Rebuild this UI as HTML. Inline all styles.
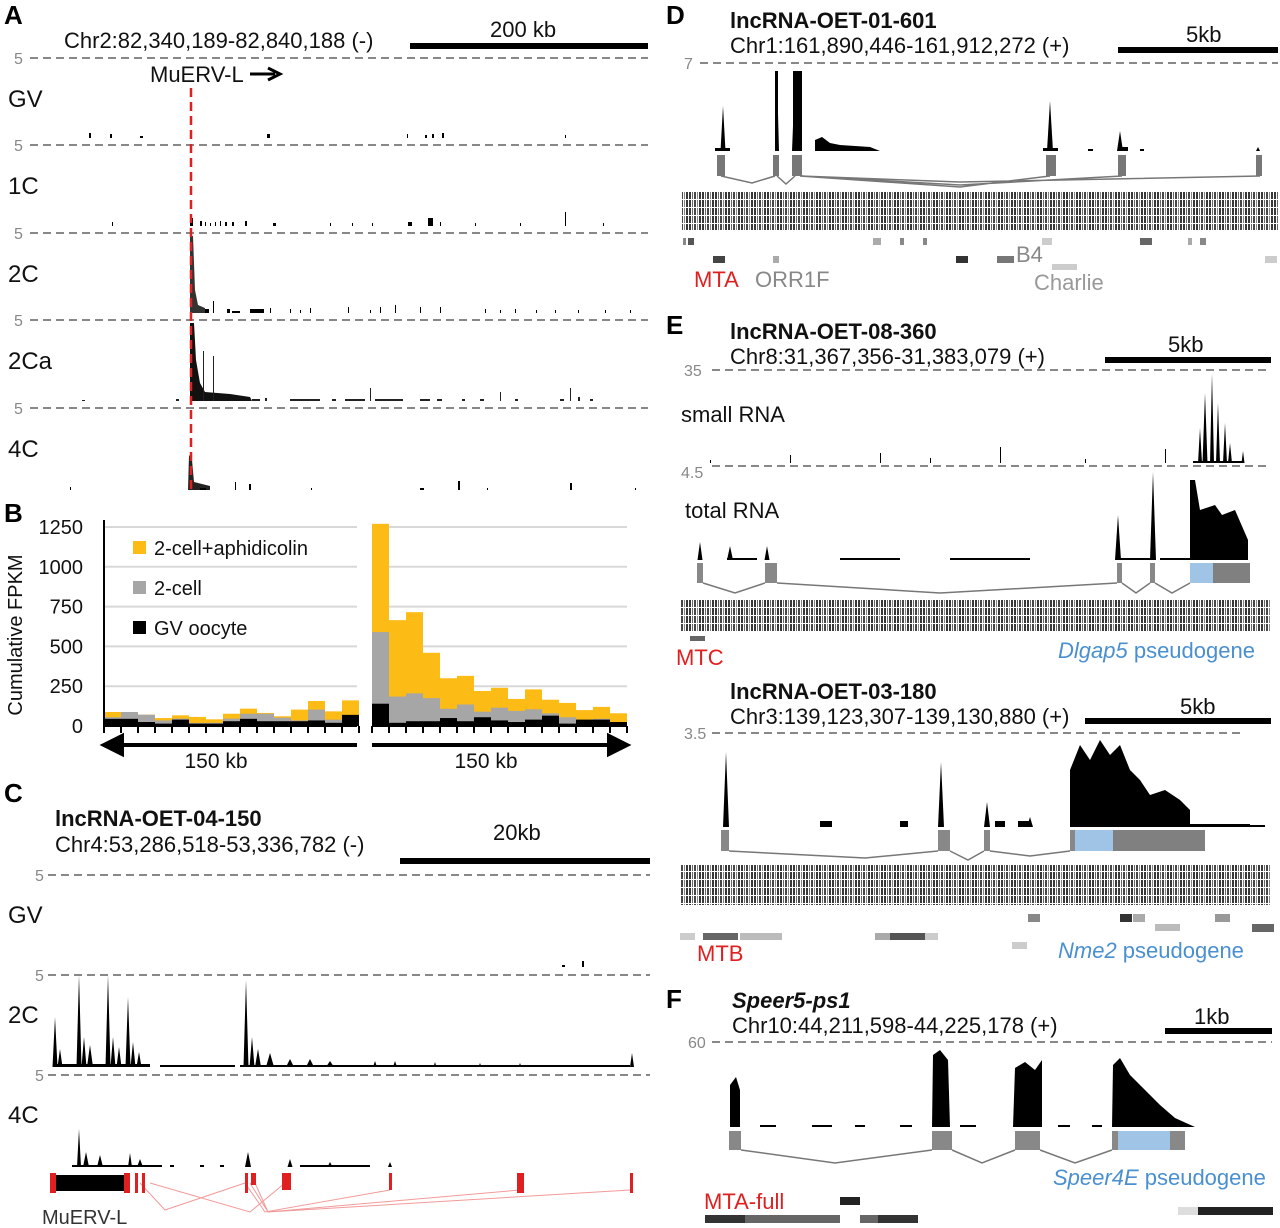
<!DOCTYPE html>
<html><head><meta charset="utf-8"><style>
body{margin:0;background:#fff}
svg{display:block;font-family:"Liberation Sans",sans-serif}
.t{font-size:22px;fill:#111}
.big{font-size:24px;fill:#111}
.pl{font-size:26px;font-weight:bold;fill:#000}
.g5{font-size:16px;fill:#888}
.dash{stroke:#888;stroke-width:2;stroke-dasharray:8,5}
</style></head><body>
<svg id="fig" width="1280" height="1228" viewBox="0 0 1280 1228">
<defs>
<pattern id="rep" width="13" height="8" patternUnits="userSpaceOnUse">
<rect width="13" height="8" fill="#fff"/><rect x="0" y="0" width="2" height="7" fill="#222"/><rect x="3" y="0" width="1" height="7" fill="#555"/><rect x="5" y="0" width="2" height="7" fill="#333"/><rect x="8" y="0" width="1" height="7" fill="#777"/><rect x="10" y="0" width="2" height="7" fill="#222"/>
</pattern>
</defs>

<g>
<text x="4" y="24" class="pl">A</text>
<text x="64" y="48" class="t">Chr2:82,340,189-82,840,188 (-)</text>
<rect x="410" y="43" width="238" height="6" fill="#000"/>
<text x="490" y="37" class="t">200 kb</text>
<text x="150" y="82" class="t">MuERV-L</text>
<path d="M250 74 H275 M268 68 L280 74 L268 80" stroke="#000" stroke-width="3" fill="none"/>
<g id="aTracks"></g>
<line x1="191" y1="88" x2="191" y2="492" stroke="#e02020" stroke-width="2.5" stroke-dasharray="9,5"/>
</g>

<g>
<text x="4" y="522" class="pl">B</text>
<text transform="translate(22,635) rotate(-90)" text-anchor="middle" class="t" style="font-size:20px">Cumulative FPKM</text>
<g id="bChart"></g>
</g>

<g>
<text x="4" y="802" class="pl">C</text>
<text x="55" y="826" class="t" style="font-weight:bold">lncRNA-OET-04-150</text>
<text x="55" y="852" class="t">Chr4:53,286,518-53,336,782 (-)</text>
<rect x="400" y="858" width="250" height="6" fill="#000"/>
<text x="493" y="840" class="t">20kb</text>
<g id="cTracks"></g>
<g>
<g stroke="#f29a9a" stroke-width="1" fill="none">
<path d="M140 1183 L165 1210 L245 1183 M150 1183 L250 1212 L285 1183 M245 1183 L265 1212 L390 1190 M250 1183 L268 1212 L520 1190 M255 1183 L268 1212 L630 1190"/>
</g>
<rect x="55" y="1175" width="70" height="16" fill="#000"/>
<rect x="50" y="1173" width="6" height="20" fill="#e02020"/><rect x="124" y="1173" width="6" height="20" fill="#e02020"/>
<rect x="135" y="1173" width="3" height="20" fill="#e02020"/><rect x="142" y="1173" width="3" height="20" fill="#e02020"/>
<rect x="245" y="1173" width="3" height="20" fill="#e02020"/><rect x="251" y="1173" width="5" height="12" fill="#e02020"/>
<rect x="282" y="1173" width="9" height="17" fill="#e02020"/><rect x="389" y="1173" width="3" height="17" fill="#e02020"/>
<rect x="517" y="1173" width="7" height="20" fill="#e02020"/><rect x="630" y="1173" width="3" height="20" fill="#e02020"/>
</g>
<text x="42" y="1224" class="t" style="font-size:20px;fill:#333">MuERV-L</text>
</g>

<g>
<text x="666" y="24" class="pl">D</text>
<text x="730" y="28" class="t" style="font-weight:bold">lncRNA-OET-01-601</text>
<text x="730" y="53" class="t">Chr1:161,890,446-161,912,272 (+)</text>
<rect x="1118" y="47" width="160" height="6" fill="#000"/>
<text x="1186" y="42" class="t">5kb</text>
<text x="684" y="69" class="g5">7</text>
<line x1="700" y1="63" x2="1278" y2="63" class="dash"/>
<g id="dTrack"></g>
<rect x="682" y="192" width="596" height="38" fill="url(#rep)" opacity="0.9"/>
<g fill="#888"><rect x="683" y="238" width="3" height="7"/><rect x="688" y="238" width="6" height="7" fill="#555"/><rect x="873" y="238" width="8" height="7" fill="#aaa"/><rect x="900" y="238" width="4" height="7"/><rect x="923" y="238" width="4" height="7"/><rect x="1140" y="238" width="12" height="7" fill="#666"/><rect x="1188" y="238" width="4" height="7" fill="#aaa"/><rect x="1200" y="238" width="6" height="7"/><rect x="1042" y="238" width="10" height="7" fill="#ccc"/>
<rect x="713" y="256" width="12" height="7" fill="#444"/><rect x="773" y="256" width="6" height="7" fill="#aaa"/><rect x="956" y="256" width="12" height="7" fill="#333"/><rect x="997" y="256" width="17" height="7" fill="#777"/><rect x="1052" y="264" width="25" height="6" fill="#ccc"/><rect x="1265" y="256" width="12" height="7" fill="#ccc"/></g>
<text x="694" y="287" class="t" style="fill:#e02020">MTA</text>
<text x="755" y="287" class="t" style="fill:#888">ORR1F</text>
<text x="1016" y="262" class="t" style="fill:#888">B4</text>
<text x="1034" y="290" class="t" style="fill:#999">Charlie</text>
</g>

<g>
<text x="666" y="334" class="pl">E</text>
<text x="730" y="339" class="t" style="font-weight:bold">lncRNA-OET-08-360</text>
<text x="730" y="364" class="t">Chr8:31,367,356-31,383,079 (+)</text>
<rect x="1105" y="357" width="166" height="6" fill="#000"/>
<text x="1168" y="352" class="t">5kb</text>
<text x="684" y="376" class="g5">35</text>
<line x1="712" y1="370" x2="1270" y2="370" class="dash"/>
<text x="681" y="422" class="t">small RNA</text>
<text x="681" y="478" class="g5">4.5</text>
<line x1="712" y1="466" x2="1270" y2="466" class="dash"/>
<text x="685" y="518" class="t">total RNA</text>
<g id="eTrack"></g>
<rect x="680" y="600" width="590" height="32" fill="url(#rep)" opacity="0.9"/>
<rect x="690" y="636" width="15" height="5" fill="#666"/>
<text x="676" y="665" class="t" style="fill:#e02020">MTC</text>
<text x="1058" y="658" class="t" style="fill:#4a90d0"><tspan font-style="italic">Dlgap5</tspan> pseudogene</text>

<text x="730" y="699" class="t" style="font-weight:bold">lncRNA-OET-03-180</text>
<text x="730" y="724" class="t">Chr3:139,123,307-139,130,880 (+)</text>
<rect x="1085" y="718" width="186" height="6" fill="#000"/>
<text x="1180" y="714" class="t">5kb</text>
<text x="684" y="739" class="g5">3.5</text>
<line x1="712" y1="733" x2="1240" y2="733" class="dash"/>
<g id="e2Track"></g>
<rect x="680" y="865" width="590" height="40" fill="url(#rep)" opacity="0.9"/>
<g><rect x="1028" y="914" width="12" height="8" fill="#888"/><rect x="1120" y="914" width="12" height="8" fill="#333"/><rect x="1133" y="914" width="12" height="8" fill="#aaa"/><rect x="1215" y="914" width="15" height="8" fill="#999"/><rect x="1252" y="924" width="22" height="8" fill="#666"/><rect x="1155" y="924" width="25" height="7" fill="#bbb"/>
<rect x="680" y="933" width="15" height="7" fill="#ccc"/><rect x="703" y="933" width="35" height="7" fill="#666"/><rect x="740" y="933" width="42" height="7" fill="#bbb"/><rect x="875" y="933" width="15" height="7" fill="#aaa"/><rect x="890" y="933" width="35" height="7" fill="#555"/><rect x="925" y="933" width="13" height="7" fill="#ccc"/><rect x="1012" y="942" width="15" height="7" fill="#ccc"/></g>
<text x="697" y="961" class="t" style="fill:#e02020">MTB</text>
<text x="1058" y="958" class="t" style="fill:#4a90d0"><tspan font-style="italic">Nme2</tspan> pseudogene</text>
</g>

<g>
<text x="666" y="1008" class="pl">F</text>
<text x="732" y="1008" class="t" style="font-weight:bold;font-style:italic">Speer5-ps1</text>
<text x="732" y="1033" class="t">Chr10:44,211,598-44,225,178 (+)</text>
<rect x="1165" y="1028" width="107" height="6" fill="#000"/>
<text x="1194" y="1024" class="t">1kb</text>
<text x="688" y="1048" class="g5">60</text>
<line x1="712" y1="1042" x2="1272" y2="1042" class="dash"/>
<g id="fTrack"></g>
<text x="1053" y="1185" class="t" style="fill:#4a90d0"><tspan font-style="italic">Speer4E</tspan> pseudogene</text>
<text x="704" y="1209" class="t" style="fill:#e02020">MTA-full</text>
<rect x="840" y="1197" width="20" height="8" fill="#222"/>
<rect x="705" y="1215" width="40" height="8" fill="#333"/><rect x="745" y="1215" width="95" height="8" fill="#666"/><rect x="860" y="1215" width="18" height="8" fill="#666"/><rect x="878" y="1215" width="40" height="8" fill="#333"/>
<rect x="1178" y="1207" width="20" height="8" fill="#ddd"/><rect x="1198" y="1207" width="75" height="8" fill="#222"/>
</g>
</svg>
<script>
// ---- Panel B data ----
const binLabels=["L1","L2","L3","L4","L5","L6","L7","L8","L9","L10","L11","L12","L13","L14","L15","R1","R2","R3","R4","R5","R6","R7","R8","R9","R10","R11","R12","R13","R14","R15"];
const gvOocyte=[45,45,25,15,40,15,15,30,45,30,30,30,35,20,70, 140,20,30,30,50,30,55,35,25,40,65,15,40,40,25];
const twoCell=[55,88,71,35,46,19,20,46,77,77,52,35,103,40,67, 590,185,205,175,108,135,90,115,95,105,80,55,40,45,25];
const twoCellAph=[88,88,71,50,67,57,42,77,109,82,61,103,157,92,161, 1270,665,715,460,300,315,220,240,170,230,165,145,100,120,80];
const yTicks=[0,250,500,750,1000,1250];
const legendLabels=["2-cell+aphidicolin","2-cell","GV oocyte"];

const NS="http://www.w3.org/2000/svg";
function el(tag,attrs,parent){const e=document.createElementNS(NS,tag);for(const k in attrs)e.setAttribute(k,attrs[k]);parent.appendChild(e);return e;}
const bg=document.getElementById('bChart');
const y0=726,yTop=527,vmax=1250;
const yS=v=>y0-(v/vmax)*(y0-yTop);
const bw=17;
const xS=i=>(i<15?104+i*bw:372+(i-15)*bw);
yTicks.forEach(t=>{
  if(t>0){const l=el('line',{x1:104,x2:627,y1:yS(t),y2:yS(t),stroke:'#d8d8d8','stroke-width':2},bg);
  
  }
  const tx=el('text',{x:83,y:yS(t)+7,'text-anchor':'end','font-size':20,fill:'#111'},bg);tx.textContent=t;
  
  
});
el('rect',{x:357,y:515,width:15,height:212,fill:'#fff'},bg);
for(let i=0;i<binLabels.length;i++){
  const x=xS(i);
  const r1=el('rect',{x:x,y:yS(twoCellAph[i]),width:bw,height:y0-yS(twoCellAph[i]),fill:'#fdbb16'},bg);
  
  
  const r2=el('rect',{x:x,y:yS(twoCell[i]),width:bw,height:y0-yS(twoCell[i]),fill:'#a6a6a6'},bg);
  
  
  const r3=el('rect',{x:x,y:yS(gvOocyte[i]),width:bw,height:y0-yS(gvOocyte[i]),fill:'#000'},bg);
  
  
}
el('line',{x1:104,x2:104,y1:520,y2:733,stroke:'#000','stroke-width':2},bg);
el('line',{x1:104,x2:357,y1:y0,y2:y0,stroke:'#000','stroke-width':2},bg);
el('line',{x1:372,x2:627,y1:y0,y2:y0,stroke:'#000','stroke-width':2},bg);
for(let i=0;i<=15;i++){el('line',{x1:104+i*bw,x2:104+i*bw,y1:y0,y2:y0+7,stroke:'#000','stroke-width':2},bg);el('line',{x1:372+i*bw,x2:372+i*bw,y1:y0,y2:y0+7,stroke:'#000','stroke-width':2},bg);}
el('path',{d:'M120 745 H357 M104 745 L122 736 L122 754 Z M372 745 H610 M627 745 L609 736 L609 754 Z',stroke:'#000','stroke-width':4,fill:'#000'},bg);
[["150 kb",216],["150 kb",486]].forEach(([s,x])=>{const t=el('text',{x:x,y:768,'text-anchor':'middle','font-size':21,fill:'#111'},bg);t.textContent=s;});
const legCols=['#fdbb16','#a6a6a6','#000'];
legendLabels.forEach((s,i)=>{
  const g=el('g',{},bg);
  
  
  el('rect',{x:133,y:541+i*40,width:13,height:13,fill:legCols[i]},g);
  const t=el('text',{x:154,y:555+i*40,'font-size':20,fill:'#111'},g);t.textContent=s;
});

// ---- tracks ----  spikes: [x,height,width]; blocks: [x,width,height]
function spikes(parent,base,list,col){
  list.forEach(([x,h,w])=>{el('path',{d:`M${x-w/2} ${base} L${x} ${base-h} L${x+w/2} ${base} Z`,fill:col||'#000'},parent);});
}
function blocks(parent,base,list,col){list.forEach(([x,w,h])=>el('rect',{x:x,y:base-h,width:w,height:h,fill:col||'#000'},parent));}
// Panel A
const aG=document.getElementById('aTracks');
const aRows=[["GV",58],["1C",145],["2C",233],["2Ca",320],["4C",408]];
aRows.forEach(([n,y])=>{
  el('line',{x1:30,x2:648,y1:y,y2:y,class:'dash'},aG);
  const g=el('text',{x:14,y:y+6,class:'g5'},aG);g.textContent='5';
  const t=el('text',{x:8,y:y+49,class:'big'},aG);t.textContent=n;
  
  
});
blocks(aG,138,[[89,2,5],[110,2,4],[140,3,2],[267,3,4],[407,1,4],[425,2,3],[432,2,4],[442,2,5],[565,1,3]]);
blocks(aG,226,[[112,1,4],[190,3,8],[200,2,5],[205,1,4],[210,1,3],[215,1,4],[220,1,5],[225,2,4],[232,2,4],[245,2,5],[273,3,3],[330,1,3],[352,1,3],[372,1,3],[408,4,4],[428,5,8],[440,1,4],[475,1,3],[520,1,3],[565,1,14],[603,1,3]]);
el('path',{d:'M190 313 L190 236 L193 236 L195 290 L198 305 L205 308 L205 313 Z',fill:'#333'},aG);
blocks(aG,313,[[205,4,4],[213,1,12],[227,3,4],[232,8,2],[250,14,4],[270,1,5],[290,1,4],[300,1,3],[310,1,5],[348,1,6],[370,1,3],[380,1,6],[395,1,8],[420,1,6],[440,1,6],[485,1,4],[500,1,3],[515,1,4],[536,1,3],[555,1,3],[578,1,3],[605,1,3],[630,1,3]]);
el('path',{d:'M190 401 L190 323 L194 323 L196 360 L200 383 L205 392 L230 394 L250 397 L252 401 Z',fill:'#111'},aG);
blocks(aG,401,[[203,1,50],[213,1,45],[252,8,2],[265,2,3],[290,30,2],[332,4,2],[345,20,2],[370,1,13],[375,28,2],[420,10,2],[437,5,2],[462,3,2],[480,4,2],[500,1,9],[515,3,2],[560,4,2],[570,1,13],[578,2,4],[590,3,2],[82,3,1],[176,3,2]],'#222');
el('path',{d:'M188 490 L189 455 L192 460 L194 482 L210 486 L210 490 Z',fill:'#222'},aG);
blocks(aG,490,[[70,1,3],[200,6,2],[235,1,8],[249,2,6],[311,1,2],[420,4,2],[458,2,9],[487,1,2],[570,2,7],[635,1,2]]);

// Panel C
const cG=document.getElementById('cTracks');
[["GV",875],["2C",975],["4C",1075]].forEach(([n,y])=>{
  el('line',{x1:48,x2:650,y1:y,y2:y,class:'dash'},cG);
  const g=el('text',{x:35,y:y+6,class:'g5'},cG);g.textContent='5';
  const t=el('text',{x:8,y:y+48,class:'big'},cG);t.textContent=n;
});
blocks(cG,967,[[562,3,2],[582,2,6]]);
spikes(cG,1067,[[55,50,5],[60,18,5],[79,92,5],[84,30,5],[90,22,6],[108,92,5],[113,30,5],[119,20,5],[128,70,5],[133,25,5],[139,15,5],[246,87,5],[252,30,5],[258,18,6],[270,14,8],[290,8,8],[310,8,8],[330,6,8],[375,6,4],[395,6,4],[435,5,3],[480,4,3],[520,4,3],[632,14,4]]);
blocks(cG,1067,[[55,95,3],[160,75,2],[240,200,2],[370,50,2],[440,30,2],[470,160,2]],'#000');
spikes(cG,1167,[[79,38,4],[86,15,6],[100,12,6],[130,14,4],[140,8,6],[248,15,6],[290,8,5],[330,5,5],[390,5,4]]);
blocks(cG,1167,[[72,90,2],[170,4,2],[200,4,2],[220,4,2],[300,50,2],[350,20,2]]);

// Panel D
const dG=document.getElementById('dTrack');
spikes(dG,151,[[723,45,5],[777,75,4],[795,75,6],[799,72,5],[1050,50,6],[1120,20,6],[1258,4,4]]);
el('path',{d:'M815 151 L815 140 L822 137 L830 143 L840 145 L870 147 L880 151 Z',fill:'#000'},dG);
blocks(dG,151,[[775,3,80],[793,9,80],[715,15,3],[1043,15,3],[1088,5,2],[1118,10,4],[1140,4,2]]);
blocks(dG,176,[[717,8,21],[773,6,21],[792,10,21],[1046,10,21],[1118,8,21],[1256,6,21]],'#777');
el('path',{d:'M721 176 L752 183 L775 176 M777 176 L786 184 L795 176 M800 176 L960 187 L1050 176 M800 176 L960 185 L1122 176 M800 176 L960 182 L1260 176',stroke:'#777','stroke-width':1.5,fill:'none'},dG);
// Panel E
const eG=document.getElementById('eTrack');
spikes(eG,463,[[1205,70,5],[1212,90,4],[1218,60,4],[1225,40,4],[1200,35,4],[1230,20,4],[1243,12,3]]);
blocks(eG,463,[[1193,50,2],[710,1,3],[790,1,8],[880,1,10],[930,1,5],[1000,1,16],[1165,1,14],[1085,1,4]]);
spikes(eG,560,[[700,18,5],[730,14,6],[767,14,5],[1118,45,6],[1153,88,6]]);
blocks(eG,560,[[727,30,2],[840,60,2],[950,40,2],[990,40,2],[1118,35,2],[1160,30,2]]);
el('path',{d:'M1190 560 L1190 480 L1195 480 L1200 510 L1215 505 L1222 515 L1235 510 L1248 540 L1248 560 Z',fill:'#000'},eG);
blocks(eG,583,[[697,6,20],[765,12,20],[1117,5,20],[1150,5,20]],'#888');
el('rect',{x:1190,y:563,width:23,height:20,fill:'#9fc4e6'},eG);
el('rect',{x:1213,y:563,width:37,height:20,fill:'#808080'},eG);
el('path',{d:'M703 583 L735 593 L765 583 M777 583 L940 593 L1117 583 M1122 583 L1136 593 L1150 583 M1155 583 L1172 593 L1190 583',stroke:'#777','stroke-width':1.5,fill:'none'},eG);
const e2=document.getElementById('e2Track');
spikes(e2,827,[[726,75,6],[941,65,6],[987,25,6],[1030,10,6]]);
blocks(e2,827,[[820,12,6],[900,8,6],[995,10,6],[1018,12,6],[1190,60,3],[1215,50,2]]);
el('path',{d:'M1070 827 L1070 770 L1080 745 L1090 760 L1100 740 L1110 755 L1120 745 L1130 770 L1140 780 L1150 795 L1165 790 L1180 800 L1190 810 L1190 827 Z',fill:'#000'},e2);
blocks(e2,851,[[721,8,21],[938,12,21],[984,6,21]],'#888');
el('rect',{x:1070,y:830,width:5,height:21,fill:'#888'},e2);
el('rect',{x:1075,y:830,width:38,height:21,fill:'#9fc4e6'},e2);
el('rect',{x:1113,y:830,width:92,height:21,fill:'#808080'},e2);
el('path',{d:'M729 851 L865 858 L938 851 M950 851 L968 860 L984 851 M990 851 L1030 856 L1070 851',stroke:'#777','stroke-width':1.5,fill:'none'},e2);
// Panel F
const fG=document.getElementById('fTrack');
el('path',{d:'M730 1127 L730 1085 L736 1077 L740 1090 L740 1127 Z',fill:'#000'},fG);
el('path',{d:'M932 1127 L933 1055 L940 1050 L948 1060 L950 1127 Z',fill:'#000'},fG);
el('path',{d:'M1013 1127 L1015 1068 L1025 1062 L1035 1070 L1042 1060 L1042 1127 Z',fill:'#000'},fG);
el('path',{d:'M1112 1127 L1113 1065 L1120 1058 L1130 1075 L1145 1090 L1160 1105 L1175 1118 L1195 1127 Z',fill:'#000'},fG);
blocks(fG,1127,[[760,16,2],[812,20,2],[855,10,2],[900,12,2],[960,16,2],[1058,12,2],[1092,10,2]]);
blocks(fG,1150,[[729,12,19],[932,20,19],[1015,25,19],[1112,6,19],[1170,15,19]],'#888');
el('rect',{x:1118,y:1131,width:52,height:19,fill:'#9fc4e6'},fG);
el('path',{d:'M741 1150 L835 1163 L932 1150 M952 1150 L982 1163 L1015 1150 M1040 1150 L1075 1163 L1112 1150',stroke:'#777','stroke-width':1.5,fill:'none'},fG);
</script>
</body></html>
